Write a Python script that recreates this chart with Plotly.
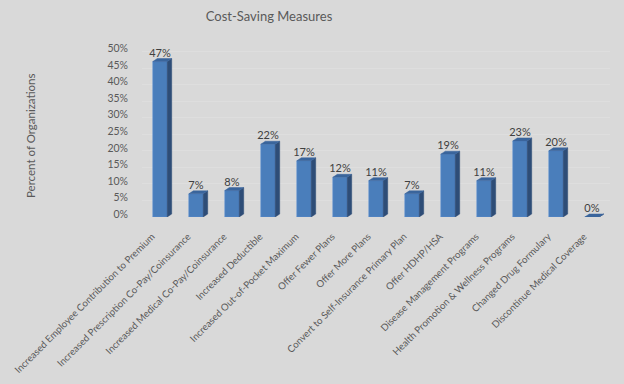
import plotly.graph_objects as go

categories = [
    "Increased Employee Contribution to Premium",
    "Increased Prescription Co-Pay/Coinsurance",
    "Increased Medical Co-Pay/Coinsurance",
    "Increased Deductible",
    "Increased Out-of-Pocket Maximum",
    "Offer Fewer Plans",
    "Offer More Plans",
    "Convert to Self-Insurance Primary Plan",
    "Offer HDHP/HSA",
    "Disease Management Programs",
    "Health Promotion & Wellness Programs",
    "Changed Drug Formulary",
    "Discontinue Medical Coverage",
]
values = [47, 7, 8, 22, 17, 12, 11, 7, 19, 11, 23, 20, 0]
y_ticks = [0, 5, 10, 15, 20, 25, 30, 35, 40, 45, 50]

BG = "#d9d9d9"
FRONT = "#4a7ebb"
SIDE = "#2e4d77"
TOP = "#3a659c"
TXT = "#595959"
FONT = "Lato"

half = 0.2   # half width of front face (category units)
dx = 0.125   # depth offset in x
dy = 0.9     # depth offset in y (percent units)

idx = list(range(len(categories)))

# side faces and top faces built from the data values
side_x, side_y, top_x, top_y = [], [], [], []
for i, v in zip(idx, values):
    side_x += [i + half, i + half + dx, i + half + dx, i + half, i + half, None]
    side_y += [0, dy, v + dy, v, 0, None]
    top_x += [i - half, i + half, i + half + dx, i - half + dx, i - half, None]
    top_y += [v, v, v + dy, v + dy, v, None]

fig = go.Figure()
fig.add_trace(go.Scatter(x=side_x, y=side_y, mode="lines", fill="toself",
                         fillcolor=SIDE, line=dict(width=0.5, color=SIDE),
                         hoverinfo="skip", showlegend=False))
fig.add_trace(go.Bar(x=idx, y=values, width=2 * half,
                     marker=dict(color=FRONT, line=dict(width=0.6, color="#5b8fd0")),
                     text=[f"{v}%" for v in values], textposition="outside",
                     constraintext="none",
                     textfont=dict(family=FONT, size=11, color="#404040"),
                     cliponaxis=False, showlegend=False))
fig.add_trace(go.Scatter(x=top_x, y=top_y, mode="lines", fill="toself",
                         fillcolor=TOP, line=dict(width=0.5, color=TOP),
                         hoverinfo="skip", showlegend=False))

fig.update_layout(
    width=624, height=384,
    paper_bgcolor=BG, plot_bgcolor=BG,
    margin=dict(l=142, r=14, t=45, b=167, autoexpand=False),
    font=dict(family=FONT, color=TXT),
    title=dict(text="Cost-Saving Measures", x=269 / 624, xanchor="center",
               y=1 - 16 / 384, yanchor="middle", xref="container", yref="container",
               font=dict(family=FONT, size=13, color=TXT)),
    barmode="overlay",
    xaxis=dict(range=[-0.5, 12.5], tickmode="array", tickvals=idx, ticktext=categories,
               tickangle=-45, tickfont=dict(family=FONT, size=9.7, color=TXT),
               showgrid=False, zeroline=False, showline=False, ticks="",
               ticklabelstandoff=11, ticklabelshift=-8, automargin=False),
    yaxis=dict(range=[0, 52], tickmode="array", tickvals=y_ticks,
               ticktext=[f"{t}%" for t in y_ticks],
               tickfont=dict(family=FONT, size=10.5, color=TXT),
               showgrid=True, gridcolor="#dedede", gridwidth=1,
               zeroline=False, showline=False, ticks="",
               ticklabelstandoff=13, ticklabelshift=-3, automargin=False),
    annotations=[dict(text="Percent of Organizations", textangle=-90,
                      x=(30 - 142) / 468, y=(217 - 136) / 172, xref="paper", yref="paper",
                      xanchor="center", yanchor="middle", showarrow=False,
                      font=dict(family=FONT, size=11.5, color=TXT))],
)

fig.write_html("out.html", config={"displayModeBar": False},
               post_script="document.body.style.margin='0px';document.body.style.background='#d9d9d9';")
